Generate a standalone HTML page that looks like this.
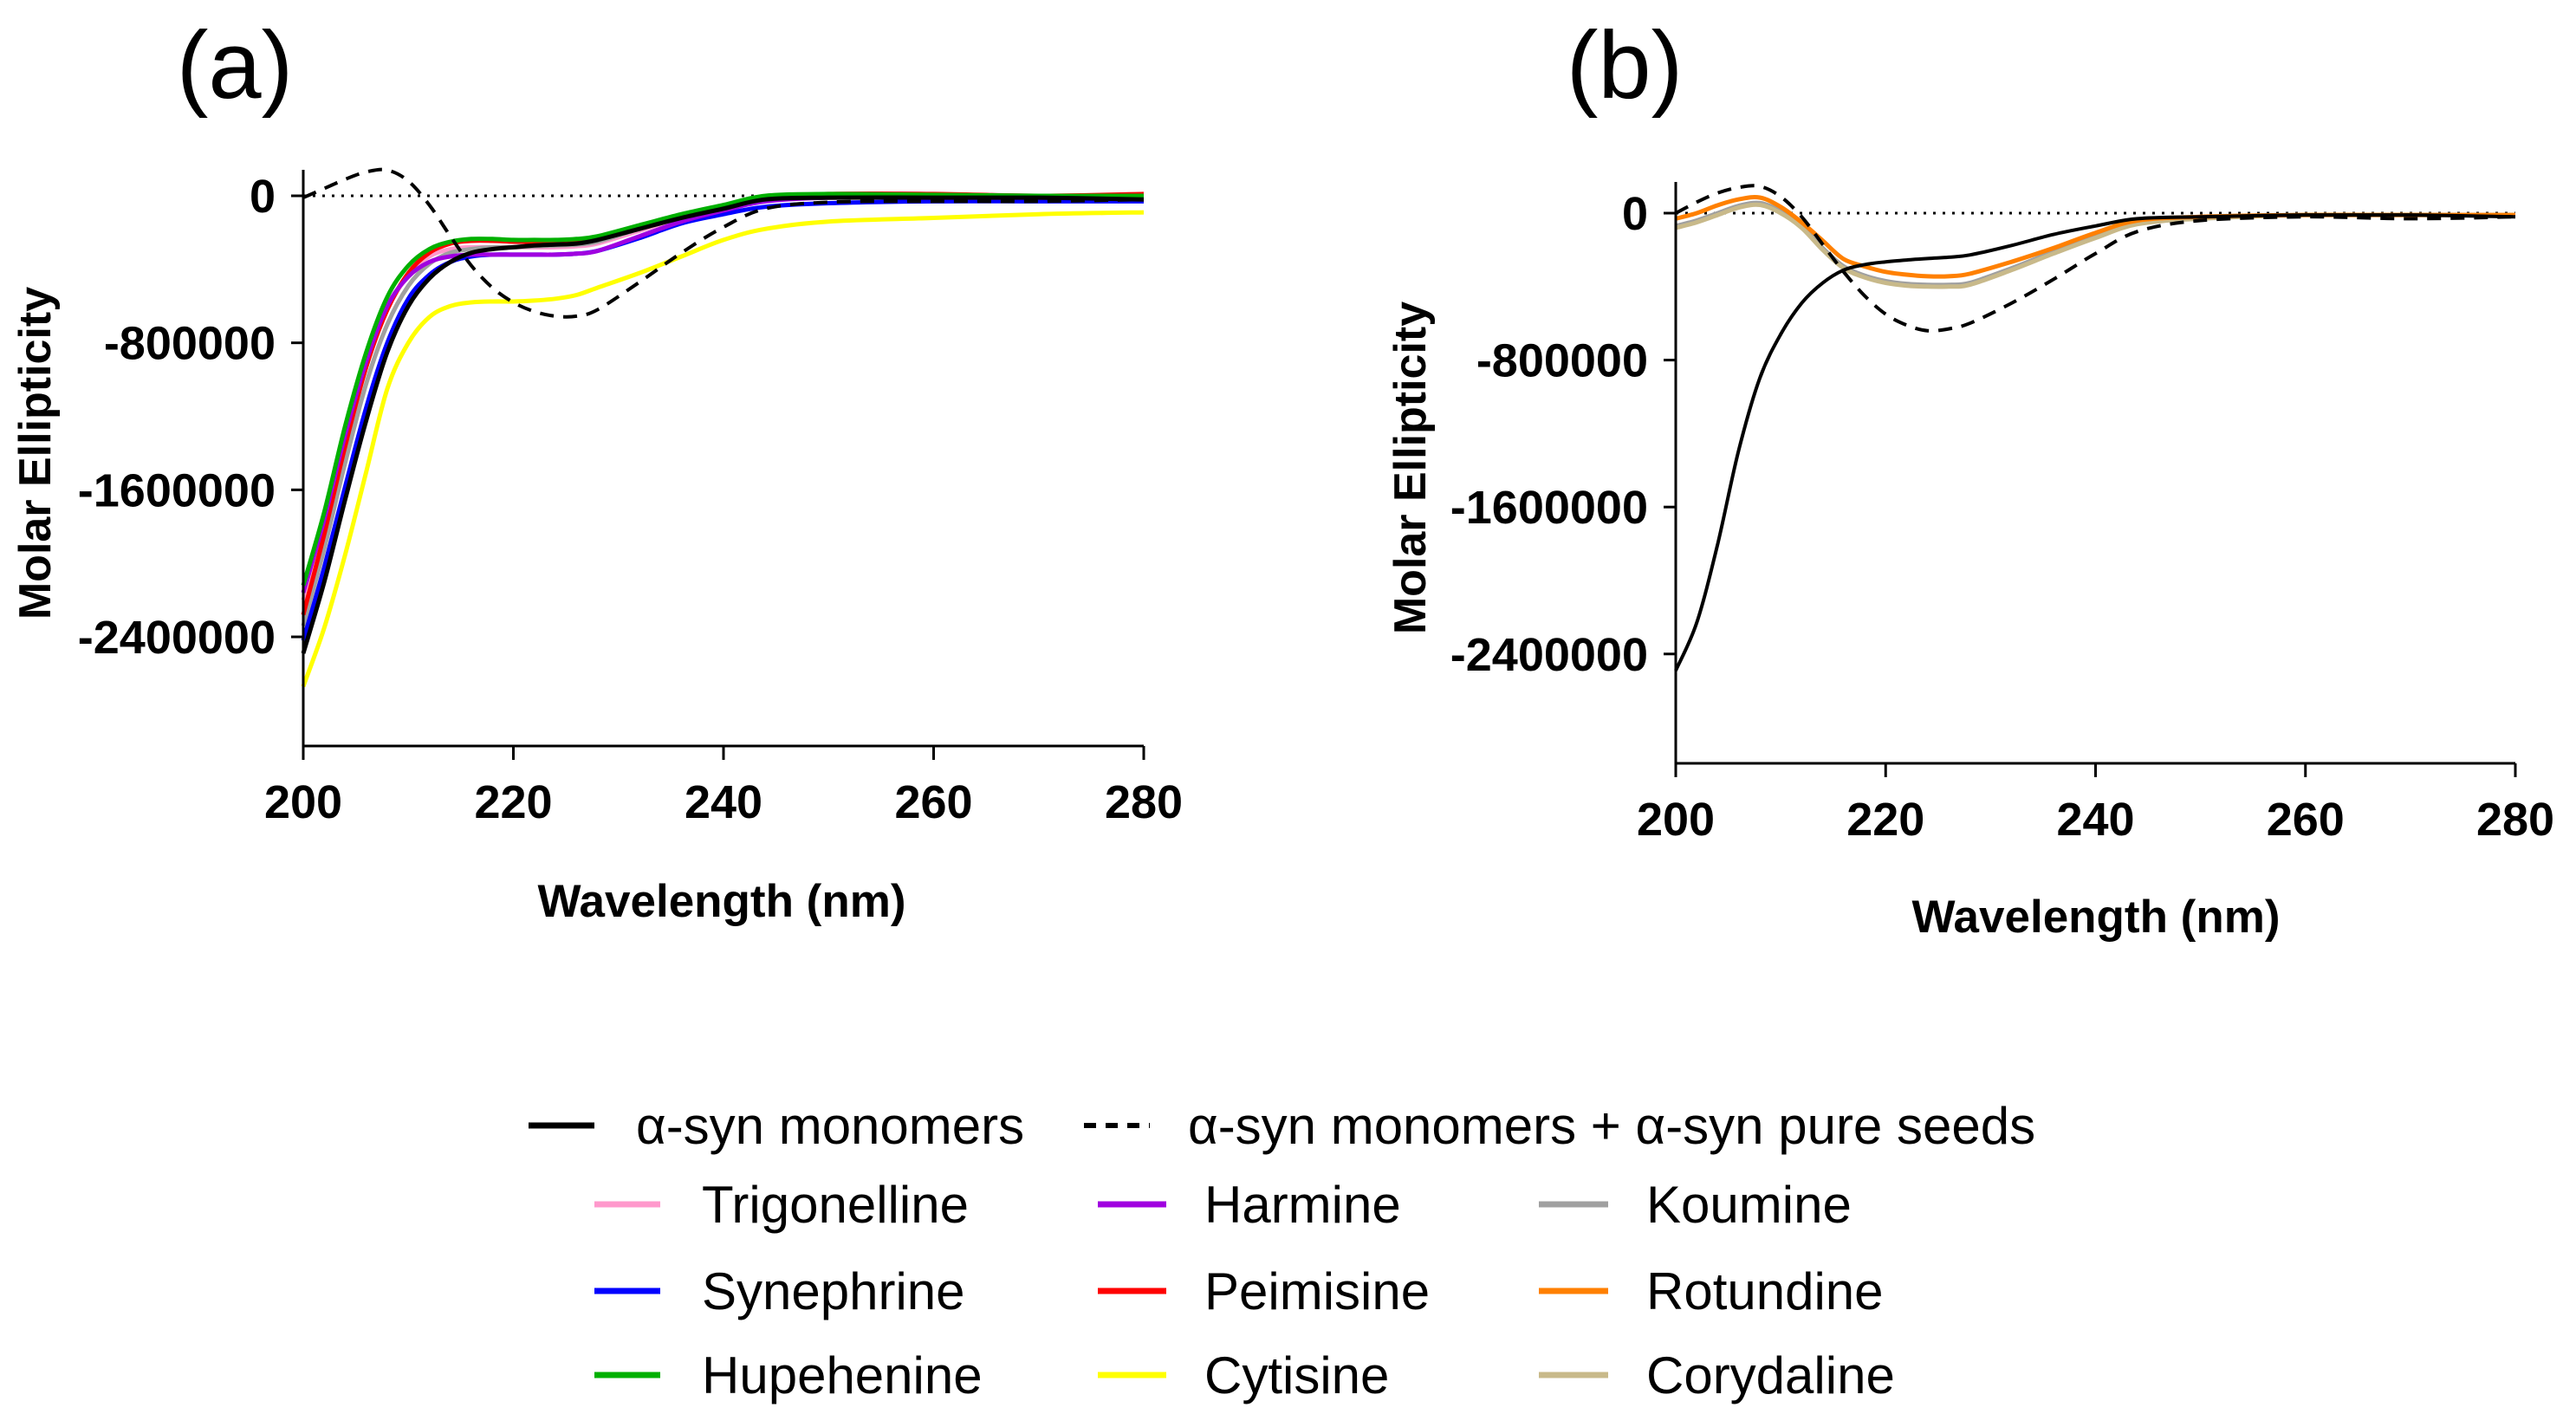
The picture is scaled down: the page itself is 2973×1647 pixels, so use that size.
<!DOCTYPE html>
<html><head><meta charset="utf-8"><style>
html,body{margin:0;padding:0;background:#fff;}
svg{display:block;font-family:"Liberation Sans",Arial,sans-serif;}
</style></head><body>
<svg id="fig" width="2973" height="1647" viewBox="0 0 2973 1647">
<rect width="2973" height="1647" fill="#fff"/>
<g id="pa"></g>
<g id="pb"></g>
<g id="legend"></g>
</svg>
<script>
const wavelengths=[200,202,204,206,208,210,212,214,216,218,220,222,224,226,228,232,236,240,244,250,260,270,280];
const xTicks=[200,220,240,260,280];
const yTicks=[0,-800000,-1600000,-2400000];
const yTickLabels=["0","-800000","-1600000","-2400000"];
// panel a (values in millions)
const aMonomers=[-2.49,-2.1,-1.65,-1.22,-0.85,-0.6,-0.45,-0.36,-0.31,-0.29,-0.28,-0.27,-0.265,-0.26,-0.24,-0.18,-0.12,-0.07,-0.02,-0.01,-0.01,-0.01,-0.02];
const aSeeds=[-0.01,0.04,0.09,0.13,0.14,0.08,-0.05,-0.22,-0.38,-0.5,-0.58,-0.63,-0.655,-0.655,-0.62,-0.47,-0.31,-0.17,-0.07,-0.035,-0.03,-0.03,-0.02];
const aTrigonelline=[-2.2,-1.8,-1.33,-0.92,-0.62,-0.43,-0.33,-0.29,-0.28,-0.28,-0.28,-0.28,-0.28,-0.275,-0.26,-0.19,-0.12,-0.07,-0.02,-0.005,0,0,-0.01];
const aHarmine=[-2.16,-1.76,-1.3,-0.9,-0.6,-0.44,-0.36,-0.33,-0.32,-0.32,-0.32,-0.32,-0.32,-0.315,-0.3,-0.22,-0.14,-0.08,-0.03,-0.01,-0.01,-0.01,-0.01];
const aKoumine=[-2.34,-1.92,-1.45,-1.02,-0.7,-0.49,-0.37,-0.31,-0.29,-0.28,-0.28,-0.275,-0.27,-0.265,-0.25,-0.18,-0.12,-0.07,-0.02,-0.01,-0.01,-0.01,-0.01];
const aSynephrine=[-2.42,-2.02,-1.58,-1.15,-0.8,-0.56,-0.43,-0.36,-0.33,-0.32,-0.32,-0.32,-0.32,-0.315,-0.3,-0.23,-0.15,-0.1,-0.06,-0.04,-0.03,-0.03,-0.03];
const aPeimisine=[-2.28,-1.84,-1.36,-0.93,-0.62,-0.42,-0.31,-0.26,-0.245,-0.245,-0.25,-0.25,-0.25,-0.245,-0.23,-0.17,-0.11,-0.06,-0.01,0.01,0.01,0,0.01];
const aHupehenine=[-2.12,-1.72,-1.25,-0.85,-0.55,-0.38,-0.29,-0.25,-0.235,-0.235,-0.24,-0.24,-0.24,-0.235,-0.22,-0.16,-0.1,-0.05,0,0.01,0.005,0,0];
const aCytisine=[-2.67,-2.35,-1.95,-1.5,-1.05,-0.8,-0.66,-0.6,-0.58,-0.575,-0.575,-0.57,-0.56,-0.54,-0.5,-0.42,-0.33,-0.24,-0.18,-0.14,-0.12,-0.1,-0.09];
// panel b
const bMonomers=[-2.49,-2.23,-1.8,-1.29,-0.9,-0.66,-0.49,-0.38,-0.31,-0.28,-0.265,-0.255,-0.247,-0.24,-0.228,-0.176,-0.116,-0.07,-0.03,-0.02,-0.01,-0.01,-0.02];
const bSeeds=[0,0.06,0.11,0.14,0.146,0.09,-0.02,-0.17,-0.32,-0.45,-0.55,-0.61,-0.64,-0.63,-0.6,-0.49,-0.36,-0.22,-0.1,-0.04,-0.02,-0.03,-0.02];
const bRotundine=[-0.03,0.0,0.043,0.075,0.085,0.034,-0.05,-0.15,-0.25,-0.29,-0.32,-0.335,-0.344,-0.344,-0.33,-0.265,-0.19,-0.107,-0.04,-0.02,-0.01,-0.01,-0.01];
const bCorydaline=[-0.08,-0.05,-0.01,0.03,0.045,0.0,-0.08,-0.2,-0.3,-0.35,-0.38,-0.395,-0.4,-0.4,-0.39,-0.31,-0.22,-0.135,-0.06,-0.03,-0.01,-0.01,-0.01];
const bKoumine=[-0.07,-0.04,0,0.04,0.055,0.01,-0.07,-0.19,-0.29,-0.34,-0.37,-0.385,-0.39,-0.39,-0.38,-0.3,-0.21,-0.125,-0.05,-0.02,-0.01,-0.01,-0.01];

const NS="http://www.w3.org/2000/svg";
function mk(tag,attrs,parent){const e=document.createElementNS(NS,tag);for(const k in attrs)e.setAttribute(k,attrs[k]);parent.appendChild(e);return e;}

function smoothPath(pts){
  let d="M"+pts[0][0].toFixed(1)+","+pts[0][1].toFixed(1);
  for(let i=0;i<pts.length-1;i++){
    const p0=pts[Math.max(0,i-1)],p1=pts[i],p2=pts[i+1],p3=pts[Math.min(pts.length-1,i+2)];
    const c1x=p1[0]+(p2[0]-p0[0])/6,c1y=p1[1]+(p2[1]-p0[1])/6;
    const c2x=p2[0]-(p3[0]-p1[0])/6,c2y=p2[1]-(p3[1]-p1[1])/6;
    d+=" C"+c1x.toFixed(1)+","+c1y.toFixed(1)+" "+c2x.toFixed(1)+","+c2y.toFixed(1)+" "+p2[0].toFixed(1)+","+p2[1].toFixed(1);
  }
  return d;
}

function panel(g,cfg){
  const xs=v=>cfg.x0+(v-200)/80*(cfg.x1-cfg.x0);
  const ys=v=>cfg.y0-v/1e6*cfg.k;
  const lab=mk("text",{x:cfg.labX,y:113,"font-size":110,"text-anchor":"middle",fill:"#000"},g);
  lab.textContent=cfg.label;
  
  
  const zl=mk("line",{x1:cfg.x0,x2:cfg.x1,y1:ys(0),y2:ys(0),stroke:"#000","stroke-width":3,"stroke-dasharray":"3 8"},g);
  
  
  cfg.series.forEach(s=>{
    const pts=wavelengths.map((w,i)=>[xs(w),ys(s.v[i]*1e6)]);
    const p=mk("path",{d:smoothPath(pts),fill:"none",stroke:s.c,"stroke-width":s.w||5,"stroke-linejoin":"round"},g);
    if(s.dash)p.setAttribute("stroke-dasharray",s.dash);
    
    
  });
  const yb=cfg.yBottom;
  const ya=mk("line",{x1:cfg.x0,x2:cfg.x0,y1:cfg.yTop,y2:yb,stroke:"#000","stroke-width":3},g);
  
  
  const xa=mk("line",{x1:cfg.x0-1.5,x2:cfg.x1,y1:yb,y2:yb,stroke:"#000","stroke-width":3},g);
  
  
  yTicks.forEach((t,i)=>{
    const tk=mk("line",{x1:cfg.x0-14,x2:cfg.x0,y1:ys(t),y2:ys(t),stroke:"#000","stroke-width":3},g);
    
    
    const tl=mk("text",{x:cfg.x0-32,y:ys(t)+19,"font-size":54,"font-weight":"bold","text-anchor":"end"},g);
    tl.textContent=yTickLabels[i];
    
    
  });
  xTicks.forEach(t=>{
    const tk=mk("line",{x1:xs(t),x2:xs(t),y1:yb,y2:yb+16,stroke:"#000","stroke-width":3},g);
    
    
    const tl=mk("text",{x:xs(t),y:yb+83,"font-size":54,"font-weight":"bold","text-anchor":"middle"},g);
    tl.textContent=String(t);
    
    
  });
  const xt=mk("text",{x:cfg.xtX,y:cfg.xtY,"font-size":53,"font-weight":"bold","text-anchor":"middle"},g);
  xt.textContent="Wavelength (nm)";
  
  
  const yt=mk("text",{x:0,y:0,"font-size":52,"font-weight":"bold","text-anchor":"middle",transform:"translate("+cfg.ytX+","+cfg.ytY+") rotate(-90)"},g);
  yt.textContent="Molar Ellipticity";
  
  
}

panel(document.getElementById("pa"),{x0:350,x1:1320,y0:226,k:212.1,yTop:196,yBottom:861,label:"(a)",labX:271,
  xtX:833,xtY:1058,ytX:58,ytY:523,
  series:[
   {n:"cytisine-line",c:"#ffff00",v:aCytisine},
   {n:"trigonelline-line",c:"#ff99cc",v:aTrigonelline},
   {n:"koumine-line",c:"#a0a0a0",v:aKoumine},
   {n:"peimisine-line",c:"#ff0000",v:aPeimisine},
   {n:"synephrine-line",c:"#0000ff",v:aSynephrine},
   {n:"harmine-line",c:"#a000e0",v:aHarmine},
   {n:"hupehenine-line",c:"#00b000",v:aHupehenine},
   {n:"monomers-line",c:"#000",v:aMonomers},
   {n:"seeds-dashed-line",c:"#000",v:aSeeds,dash:"16 11",w:4}
  ]});
panel(document.getElementById("pb"),{x0:1934,x1:2903,y0:246,k:212,yTop:210,yBottom:881,label:"(b)",labX:1875,
  xtX:2419,xtY:1076,ytX:1645,ytY:540,
  series:[
   {n:"koumine-line",c:"#a0a0a0",v:bKoumine},
   {n:"corydaline-line",c:"#c8b98a",v:bCorydaline},
   {n:"rotundine-line",c:"#ff8000",v:bRotundine},
   {n:"monomers-line",c:"#000",v:bMonomers,w:4},
   {n:"seeds-dashed-line",c:"#000",v:bSeeds,dash:"16 11",w:4}
  ]});

const legendNames=["Trigonelline","Harmine","Koumine","Synephrine","Peimisine","Rotundine","Hupehenine","Cytisine","Corydaline"];
const legendColors=["#ff99cc","#a000e0","#a0a0a0","#0000ff","#ff0000","#ff8000","#00b000","#ffff00","#c8b98a"];
const lg=document.getElementById("legend");
function entry(x1,x2,tx,y,color,label,dash,name){
  const grp=mk("g",{},lg);
  
  
  const l=mk("line",{x1:x1,x2:x2,y1:y,y2:y,stroke:color,"stroke-width":dash?6:7},grp);
  if(dash)l.setAttribute("stroke-dasharray",dash);
  
  
  const t=mk("text",{x:tx,y:y+21,"font-size":60},grp);
  t.textContent=label;
  
  
}
entry(610,686,734,1299,"#000","α-syn monomers",null,"legend-entry-monomers");
entry(1251,1327,1371,1299,"#000","α-syn monomers + α-syn pure seeds","14 11","legend-entry-seeds");
const colX=[[686,762,810],[1267,1346,1390],[1776,1856,1900]];
const rowY=[1390,1490,1587];
legendNames.forEach((nm,i)=>{
  const r=Math.floor(i/3),c=i%3;
  entry(colX[c][0],colX[c][1],colX[c][2],rowY[r],legendColors[i],nm,null,"legend-entry-"+nm.toLowerCase());
});
</script>
</body></html>
